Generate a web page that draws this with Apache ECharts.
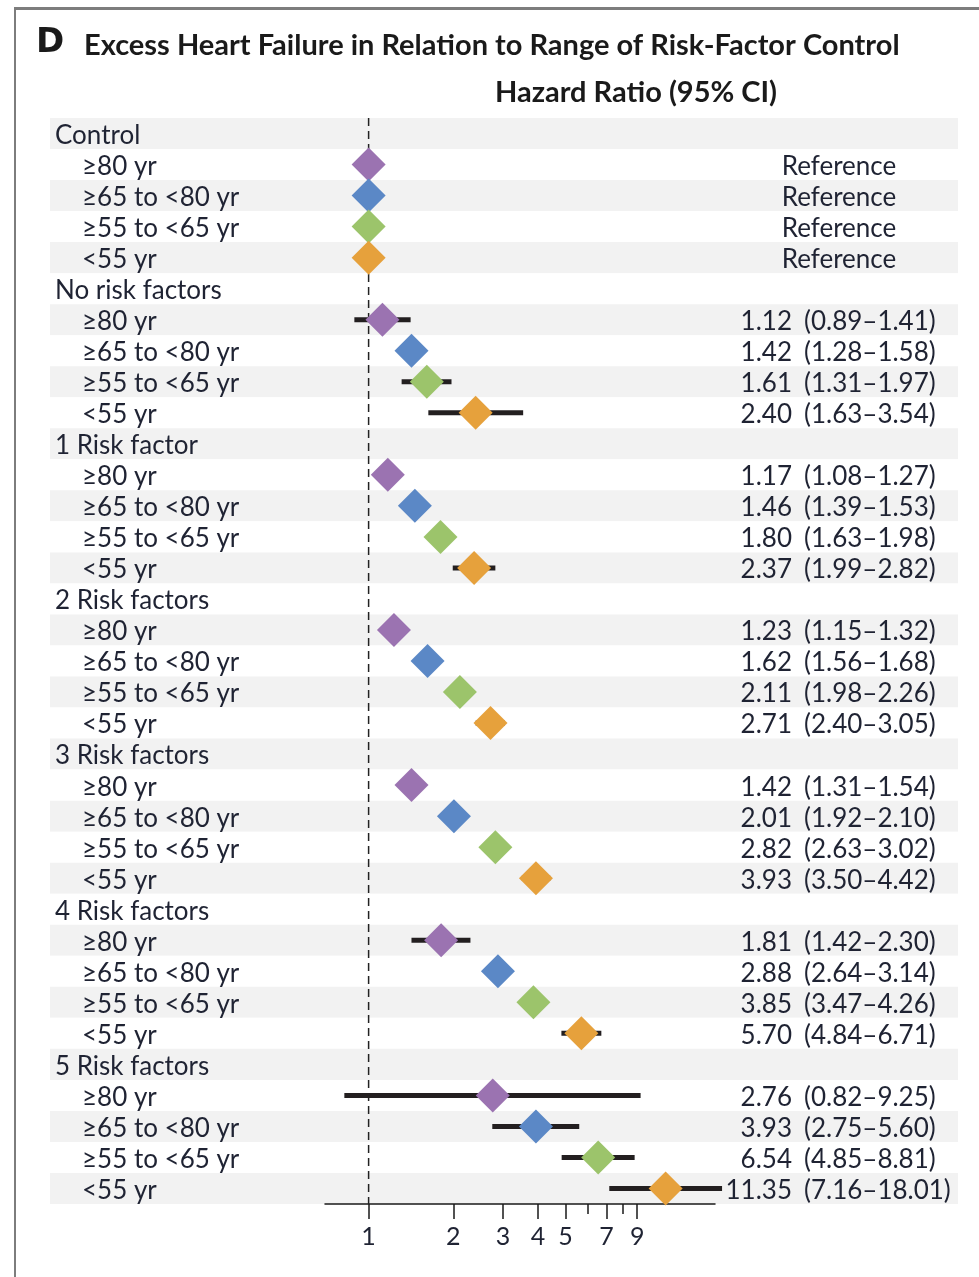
<!DOCTYPE html>
<html><head><meta charset="utf-8">
<script src="https://cdn.jsdelivr.net/npm/echarts@6/dist/echarts.min.js"></script>
<style>html,body{margin:0;padding:0;background:#fff}#c{width:979px;height:1277px}</style>
</head><body><div id="c"></div>
<script>
const groups = ['Control', 'No risk factors', '1 Risk factor', '2 Risk factors', '3 Risk factors', '4 Risk factors', '5 Risk factors'];
const ageBands = ['≥80 yr', '≥65 to <80 yr', '≥55 to <65 yr', '<55 yr'];
const ageColors = ['#9b73b1', '#5b88c6', '#9cc46b', '#e6a13c'];
// hazard ratio per group (rows) and age band (columns)
const hazardRatio = [
  [1, 1, 1, 1],
  [1.12, 1.42, 1.61, 2.40],
  [1.17, 1.46, 1.80, 2.37],
  [1.23, 1.62, 2.11, 2.71],
  [1.42, 2.01, 2.82, 3.93],
  [1.81, 2.88, 3.85, 5.70],
  [2.76, 3.93, 6.54, 11.35]
];
const ciLower = [
  [null, null, null, null],
  [0.89, 1.28, 1.31, 1.63],
  [1.08, 1.39, 1.63, 1.99],
  [1.15, 1.56, 1.98, 2.40],
  [1.31, 1.92, 2.63, 3.50],
  [1.42, 2.64, 3.47, 4.84],
  [0.82, 2.75, 4.85, 7.16]
];
const ciUpper = [
  [null, null, null, null],
  [1.41, 1.58, 1.97, 3.54],
  [1.27, 1.53, 1.98, 2.82],
  [1.32, 1.68, 2.26, 3.05],
  [1.54, 2.10, 3.02, 4.42],
  [2.30, 3.14, 4.26, 6.71],
  [9.25, 5.60, 8.81, 18.01]
];
const xTickLabels = [1, 2, 3, 4, 5, 7, 9];
const xMinorTicks = [6, 8];
const referenceValue = 1;

// build rows
const rows = [];
groups.forEach((g, gi) => {
  rows.push({ kind: 'h', label: g, g: gi, a: -1 });
  ageBands.forEach((a, ai) => rows.push({ kind: 's', label: a, g: gi, a: ai }));
});
const rowKeys = rows.map((r, i) => 'r' + i);
const rowIndex = (gi, ai) => gi * 5 + 1 + ai;

const TXT = '#1f2333';
const FONT = 'Lato';
const FS = 26;

const errData = [];
groups.forEach((g, gi) => ageBands.forEach((a, ai) => {
  if (ciLower[gi][ai] != null) errData.push([ciLower[gi][ai], rowIndex(gi, ai), ciUpper[gi][ai]]);
}));

const diamondSeries = ageBands.map((a, ai) => ({
  type: 'scatter', name: a, xAxisIndex: 1, yAxisIndex: 2,
  symbol: 'diamond', symbolSize: [34, 34], z: 5,
  itemStyle: { color: ageColors[ai], opacity: 1 },
  data: groups.map((g, gi) => [hazardRatio[gi][ai], rowIndex(gi, ai)])
}));

const rowText = (fn) => (v, i) => { const r = rows[i]; if (!r) return ''; const t = fn(r); return t ? '{v|' + t + '}' : ''; };
const richV = { v: { fontFamily: FONT, fontSize: FS, color: TXT, padding: [4, 0, 0, 0] } };
const labelBase = { show: true, inside: true, interval: 0, fontFamily: FONT, fontSize: FS, color: TXT, rich: richV };
const hidden = { axisLine: { show: false }, axisTick: { show: false }, splitArea: { show: false }, splitLine: { show: false } };

const option = {
  animation: false,
  backgroundColor: '#fff',
  graphic: [
    { type: 'rect', shape: { x: 14, y: 7, width: 965, height: 3 }, style: { fill: '#7d7d7d' }, silent: true },
    { type: 'rect', shape: { x: 14, y: 7, width: 2, height: 1270 }, style: { fill: '#7d7d7d' }, silent: true },
    { type: 'text', x: 36, y: 43, style: { text: 'D', font: 'bold 34px "DejaVu Sans"', fill: '#1a1a1a', verticalAlign: 'middle', textAlign: 'left' } },
    { type: 'text', x: 84, y: 46, style: { text: 'Excess Heart Failure in Relation to Range of Risk-Factor Control', font: 'bold 29px Lato', fill: '#1a1a1a', verticalAlign: 'middle', textAlign: 'left' } },
    { type: 'text', x: 636, y: 93, style: { text: 'Hazard Ratio (95% CI)', font: 'bold 29px Lato', fill: '#1a1a1a', verticalAlign: 'middle', textAlign: 'center' } }
  ],
  grid: [
    { left: 50, right: 21, top: 118, bottom: 73 },
    { left: 325, right: 264, top: 118, bottom: 73 }
  ],
  xAxis: [
    { gridIndex: 0, type: 'value', show: false, min: 0, max: 1 },
    {
      gridIndex: 1, type: 'log', position: 'bottom', min: 0.7, max: 17, logBase: 10,
      axisLine: { show: true, lineStyle: { color: '#1a1a1a', width: 1.5 } },
      axisTick: { show: true, customValues: xTickLabels, length: 15, lineStyle: { color: '#1a1a1a', width: 1.5 } },
      axisLabel: { show: true, customValues: xTickLabels, margin: 20, fontFamily: FONT, fontSize: 25, color: TXT },
      splitLine: { show: false }, minorTick: { show: false }
    },
    {
      gridIndex: 1, type: 'log', position: 'bottom', offset: 0, min: 0.7, max: 17, logBase: 10,
      axisLine: { show: false },
      axisTick: { show: true, customValues: xMinorTicks, length: 10, lineStyle: { color: '#1a1a1a', width: 1.5 } },
      axisLabel: { show: false, customValues: xMinorTicks },
      splitLine: { show: false }
    }
  ],
  yAxis: [
    {
      gridIndex: 0, type: 'category', data: rowKeys, inverse: true, position: 'left',
      axisLine: { show: false }, axisTick: { show: false },
      splitArea: { show: true, interval: 0, areaStyle: { color: ['#f2f2f2', '#ffffff'] } },
      axisLabel: Object.assign({}, labelBase, {
        margin: 5,
        formatter: (v, i) => { const r = rows[i]; if (!r) return ''; return r.kind === 'h' ? '{h|' + r.label + '}' : '{s|' + r.label + '}'; },
        rich: {
          h: { fontFamily: FONT, fontSize: FS, color: TXT, padding: [4, 0, 0, 0] },
          s: { fontFamily: FONT, fontSize: FS, color: TXT, padding: [4, 0, 0, 27] }
        }
      })
    },
    // hazard-ratio column (right-aligned on the decimal block)
    Object.assign({
      gridIndex: 0, type: 'category', data: rowKeys, inverse: true, position: 'right',
      axisLabel: Object.assign({}, labelBase, {
        margin: 166, align: 'right',
        formatter: rowText(r => (r.kind === 'h' || r.g === 0) ? '' : hazardRatio[r.g][r.a].toFixed(2))
      })
    }, hidden),
    { gridIndex: 1, type: 'category', data: rowKeys, inverse: true, show: false },
    // confidence-interval column
    Object.assign({
      gridIndex: 0, type: 'category', data: rowKeys, inverse: true, position: 'right',
      axisLabel: Object.assign({}, labelBase, {
        margin: 154, align: 'left',
        formatter: rowText(r => (r.kind === 'h' || r.g === 0) ? '' :
          '(' + ciLower[r.g][r.a].toFixed(2) + '–' + ciUpper[r.g][r.a].toFixed(2) + ')')
      })
    }, hidden),
    // reference column
    Object.assign({
      gridIndex: 0, type: 'category', data: rowKeys, inverse: true, position: 'right',
      axisLabel: Object.assign({}, labelBase, {
        margin: 119, align: 'center',
        formatter: rowText(r => (r.kind === 's' && r.g === 0) ? 'Reference' : '')
      })
    }, hidden)
  ],
  series: [
    {
      type: 'custom', name: 'reference line', xAxisIndex: 1, yAxisIndex: 2, clip: false, z: 1, silent: true,
      encode: { x: 0, y: 1 },
      data: [[referenceValue, 0]],
      renderItem: (params, api) => {
        const cs = params.coordSys;
        const x = api.coord([api.value(0), api.value(1)])[0];
        return { type: 'line', shape: { x1: x, y1: cs.y, x2: x, y2: cs.y + cs.height },
                 style: { stroke: '#222', lineWidth: 1.5, lineDash: [8, 5] } };
      }
    },
    {
      type: 'custom', name: '95% CI', xAxisIndex: 1, yAxisIndex: 2, clip: false, z: 2,
      encode: { x: 0, y: 1 },
      data: errData,
      renderItem: (params, api) => {
        const p1 = api.coord([api.value(0), api.value(1)]);
        const p2 = api.coord([api.value(2), api.value(1)]);
        return { type: 'line', shape: { x1: p1[0], y1: p1[1], x2: p2[0], y2: p1[1] },
                 style: { stroke: '#231f20', lineWidth: 5 } };
      }
    },
    ...diamondSeries
  ]
};
const chart = echarts.init(document.getElementById('c'), null, { renderer: 'canvas' });
chart.setOption(option);
</script></body></html>
